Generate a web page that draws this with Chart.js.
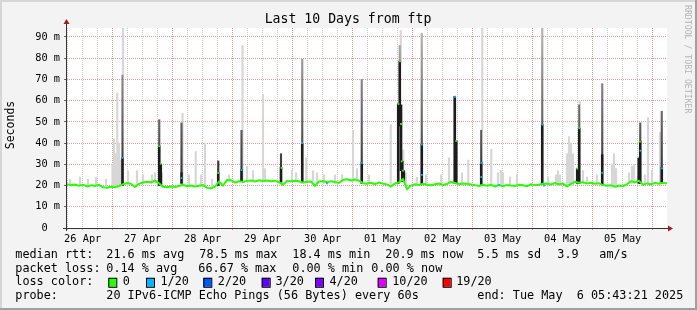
<!DOCTYPE html>
<html>
<head>
<meta charset="utf-8">
<script src="https://cdn.jsdelivr.net/npm/chart.js@4.4.1/dist/chart.umd.min.js"></script>
<style>
html, body { margin: 0; padding: 0; background: #f3f3f3; }
#wrap { width: 697px; height: 310px; position: relative; }
</style>
</head>
<body>
<div id="wrap"><canvas id="myGraph" width="697" height="310"></canvas></div>
<script>
// hours since start (Apr 26 05:43:21), first midnight is 27 Apr
var firstMidnight = 18.2775;
var dayLabels = ["26 Apr","27 Apr","28 Apr","29 Apr","30 Apr","01 May","02 May","03 May","04 May","05 May"];
var yTicks = [0,5,10,15,20,25,30,35,40,45,50,55,60,65,70,75,80,85,90];

// median rtt (ms), one value every 1.6 h
var medianStepHours = 1.6;
var medianMs = [
 20.6,20.2,20.5,19.9,20.4,19.6,20.1,19.8,20.3,19.2,19.0,19.4,19.2,19.8,20.6,21.2,
 20.8,19.3,20.8,21.4,21.8,21.5,22.3,21.0,19.4,19.2,19.5,19.3,19.8,20.3,19.7,20.0,
 19.6,19.9,20.2,18.9,18.7,19.5,21.8,20.0,22.6,22.5,21.4,22.0,21.7,22.2,22.4,21.9,
 22.5,22.1,22.4,22.0,22.3,21.6,20.4,22.1,22.0,22.2,22.0,21.3,21.8,21.9,19.9,21.9,
 22.1,21.6,22.0,21.7,21.2,22.6,22.9,22.4,22.8,22.3,21.1,20.9,21.3,20.6,21.4,20.9,
 20.5,19.5,21.0,21.5,23.0,18.3,20.0,20.6,20.3,20.8,20.4,20.1,20.6,20.9,20.3,20.7,
 21.8,21.2,20.6,21.0,20.8,20.5,20.2,19.8,20.4,19.9,20.3,19.6,20.2,19.7,20.3,20.0,
 19.8,20.4,20.1,19.7,20.6,20.2,20.4,20.8,21.0,20.5,21.2,20.6,20.9,19.6,20.8,21.8,
 21.3,21.5,21.0,21.3,20.8,21.1,20.2,19.9,20.1,19.5,20.0,19.7,20.6,22.0,21.6,22.2,
 20.4,21.0,20.6,21.2,20.8,21.3,20.9
];

// smoke: [hour, low ms, high ms]
var smokeDark = [
 [22.2,20,33],[36.9,20,38.6],[37.5,20,30],[45.8,21,26],[60.5,20,26],[69.8,22,27.5],
 [85.6,21.5,28.5],[94.1,21.5,39.5],[117.9,21,30.8],[132.5,21,58.5],[133.1,48,78.6],
 [133.6,27,58],[134.1,22,31.5],[134.7,22,27],[141.9,20.5,39.5],[155.1,21,62],
 [155.7,21,41],[165.7,20.5,30.8],[190.1,20.5,48.7],[204.1,21,28],[204.9,21,47],
 [214.1,20.5,34.5],[228.7,21,33],[229.3,21,41],[237.9,21,28.5]
];
var smokeMid = [
 [22.2,33,72],[36.9,38.6,51],[45.8,26,49.5],[60.5,26,31.6],[69.8,27.5,46],[85.6,28.5,35],
 [94.1,39.5,79.5],[117.9,30.8,70],[133.1,78.6,86],[141.9,39.5,91.7],[165.7,30.8,46],
 [190.1,48.7,94.2],[204.9,47,58],[214.1,34.5,68],[229.3,41,49.5],[237.9,28.5,55]
];
var smokeLight = [
 [1.2,20,23],[5.2,20,24],[8.4,20,23],[11.6,20,24],[15.6,20,23],[18.2,20,30],[18.8,20,42],
 [19.4,20,35],[20.1,20,63.6],[20.8,20,40],[21.4,20,32],[22.4,72,94.2],[24.4,20,27],[28,20,27],
 [30.4,21,25],[34,21,25],[35.2,21,26],[38,20,26],[46.2,21,54],[48.8,20,25],[51.5,20,36],
 [53.6,20,25],[55.2,20,40],[58,19,23],[64.8,22,25],[70.2,22,86],[72,22,29],[74.4,22,27],
 [78.4,22,63],[79.2,22,28],[90,22,27],[91.6,22,26],[95.7,22,33],[98.4,22,27],[100,21,26],
 [102.8,21,25],[107.2,21,25],[110,22,25],[114.4,22,46],[116,22,28],[120.8,21,25],
 [129.5,20,48.7],[133.5,78,93],[134.5,25,36.8],[135.6,20,26],[140,20,24],[143.6,20,25],
 [149.6,20,25],[152.8,21,33],[158,20,26],[160.5,20,32],[166.1,46,94.2],[169.7,20,37],
 [172.4,20,26],[173.6,20,27],[174.4,20,26],[177.2,20,24],[180,20,25],[192.4,20,24],
 [195.6,20,25],[196.4,20,27],[197.2,20,25],[200,20,35],[200.8,20,43],[201.6,20,40],
 [202.4,20,35],[205.1,58,59.6],[206.4,21,27],[208,21,24],[212,21,25],[218,20,30],
 [218.8,20,35],[219.6,20,28],[224.8,21,26],[226,21,29],[226.8,21,30],[231.2,21,25],
 [232.4,21,52],[234,21,27],[237.2,21,45]
];

// median samples with loss: [hour, ms, loss level index]
var medianPeaks = [
 [22.2,33,1],[36.9,38.5,0],[37.5,30.3,0],[45.8,23.5,1],[60.5,25.9,0],[69.8,27.3,1],
 [85.8,28.3,0],[94.0,40,1],[104,21,1],[117.9,30.6,1],[132.6,58.4,0],[133.2,78.5,0],
 [133.6,49,0],[133.9,31.4,0],[134.4,27,0],[141.9,39.3,1],[141.9,25,1],[155.2,61.8,1],
 [155.7,41,0],[165.7,30.6,1],[165.7,24,1],[172.8,20.3,1],[190.1,48.7,1],[190.8,20,1],
 [204.1,28,0],[204.9,47,0],[214.1,26,1],[229.2,40.7,0],[229.4,36.4,1],[238,28.1,1]
];

var lossLabels = ["0","1/20","2/20","3/20","4/20","10/20","19/20"];
var lossColors = ["#26ff00","#00b8ff","#0059ff","#5e00ff","#7e00ff","#dd00ff","#ff0000"];

// legend rows: [text, left x]
var rttItems = [["median rtt:",16],["21.6 ms avg",107],["78.5 ms max",200],["18.4 ms min",293],
                ["20.9 ms now",386],["5.5 ms sd",478],["3.9",558],["am/s",600]];
var lossItems = [["packet loss:",16],["0.14 % avg",107],["66.67 % max",199],["0.00 % min",293],
                 ["0.00 % now",372]];
var probeItems = [["probe:",16],["20 IPv6-ICMP Echo Pings (56 Bytes) every 60s",107],
                  ["end: Tue May  6 05:43:21 2025",478]];

document.addEventListener("DOMContentLoaded", function(){
  makeChart();
});

function isMidnight(v){
  let r = ((v - firstMidnight) % 24 + 24) % 24;
  return r < 0.01 || r > 23.99;
}

function smokeGradient(context){
  let chart = context.chart;
  if (!chart.chartArea) return "#777";
  let y = chart.scales.y;
  let g = chart.ctx.createLinearGradient(0, y.getPixelForValue(25), 0, y.getPixelForValue(94));
  g.addColorStop(0, "#333333");
  g.addColorStop(1, "#b5b5b5");
  return g;
}

function makeChart(){
  let target = document.getElementById("myGraph");
  const mono = '"DejaVu Sans Mono", monospace';

  let toBars = function(list){
    return list.map(d => ({x: d[0], y: [d[1], d[2]]}));
  };

  let medianData = medianMs.map((v, i) => ({x: i * medianStepHours, y: v}));

  let framePlugin = {
    id: "frame",
    beforeDraw: function(chart){
      let c = chart.ctx, a = chart.chartArea;
      c.save();
      c.fillStyle = "#f3f3f3";
      c.fillRect(0, 0, chart.width, chart.height);
      c.fillStyle = "#ffffff";
      c.fillRect(a.left, a.top, a.right - a.left, a.bottom - a.top);
      c.restore();
    },
    afterDraw: function(chart){
      let c = chart.ctx, a = chart.chartArea;
      c.save();
      // frame edges
      c.fillStyle = "#d6d6d6";
      c.fillRect(0, 0, chart.width, 2);
      c.fillRect(0, 0, 2, chart.height);
      c.fillStyle = "#a0a0a0";
      c.fillRect(0, chart.height - 2, chart.width, 2);
      c.fillRect(chart.width - 2, 0, 2, chart.height);

      // axes
      c.strokeStyle = "#333";
      c.lineWidth = 1;
      c.beginPath();
      c.moveTo(a.left - 0.5, a.bottom + 3);
      c.lineTo(a.left - 0.5, a.top - 6);
      c.moveTo(a.left - 4, a.bottom + 0.5);
      c.lineTo(a.right + 3, a.bottom + 0.5);
      c.stroke();
      c.fillStyle = "#9b2020";
      c.beginPath();
      c.moveTo(a.left - 0.5, a.top - 9);
      c.lineTo(a.left - 3.5, a.top - 4);
      c.lineTo(a.left + 2.5, a.top - 4);
      c.fill();
      c.beginPath();
      c.moveTo(a.right + 6, a.bottom + 0.5);
      c.lineTo(a.right + 1, a.bottom - 2.5);
      c.lineTo(a.right + 1, a.bottom + 3.5);
      c.fill();

      // title
      c.fillStyle = "#000";
      c.textBaseline = "middle";
      c.textAlign = "center";
      c.font = "13.2px " + mono;
      c.fillText("Last 10 Days from ftp", 348, 19.5);

      // y title
      c.save();
      c.translate(11, 125);
      c.rotate(-Math.PI / 2);
      c.font = "11.5px " + mono;
      c.fillText("Seconds", 0, 0);
      c.restore();

      // watermark
      c.save();
      c.translate(687, 5);
      c.rotate(Math.PI / 2);
      c.textAlign = "left";
      c.fillStyle = "#b4b4b4";
      c.font = "8.2px " + mono;
      c.fillText("RRDTOOL / TOBI OETIKER", 0, 0);
      c.restore();

      // legend
      c.textAlign = "left";
      c.font = "11.8px " + mono;
      let ys = [254.5, 268.5, 282.3, 296.3];
      [rttItems, lossItems, null, probeItems].forEach(function(row, i){
        if (!row) return;
        row.forEach(function(it){ c.fillText(it[0], it[1] - 0.7, ys[i]); });
      });
      c.fillText("loss color:", 15.3, ys[2]);
      let boxX = [108.3, 146, 203.3, 261.7, 315, 377.7, 442.7];
      let textX = [122.8, 160.5, 217.8, 275.5, 329.5, 392.2, 456.2];
      lossLabels.forEach(function(l, i){
        c.fillStyle = lossColors[i];
        c.fillRect(boxX[i], ys[2] - 4.5, 8, 9);
        c.strokeStyle = "#000";
        c.strokeRect(boxX[i] + 0.5, ys[2] - 4, 8, 9);
        c.fillStyle = "#000";
        c.fillText(l, textX[i], ys[2]);
      });
      c.restore();
    }
  };

  new Chart(target, {
    type: "line",
    data: {
      datasets: [
        {
          type: "line",
          data: medianPeaks.map(d => ({x: d[0], y: d[1]})),
          showLine: false,
          pointStyle: "rect",
          pointRadius: 1.3,
          pointBorderWidth: 0,
          pointBackgroundColor: medianPeaks.map(d => lossColors[d[2]]),
          order: 1
        },
        {
          type: "line",
          data: medianData,
          borderColor: "#26ff00",
          borderWidth: 2,
          pointRadius: 0,
          tension: 0,
          order: 2
        },
        {
          type: "bar",
          data: toBars(smokeDark),
          backgroundColor: "#1c1c1c",
          barThickness: 2,
          grouped: false,
          order: 3
        },
        {
          type: "bar",
          data: toBars(smokeMid),
          backgroundColor: smokeGradient,
          barThickness: 1.5,
          grouped: false,
          order: 4
        },
        {
          type: "bar",
          data: toBars(smokeLight),
          backgroundColor: "#d6d6d6",
          barThickness: 1.5,
          grouped: false,
          order: 5
        }
      ]
    },
    options: {
      responsive: false,
      animation: false,
      layout: { padding: { top: 28, right: 30, left: 0, bottom: 0 } },
      plugins: { legend: { display: false }, tooltip: { enabled: false } },
      scales: {
        x: {
          type: "linear",
          min: 0,
          max: 240,
          offset: false,
          afterFit: function(scale){ scale.height = 82; },
          afterBuildTicks: function(scale){
            let t = [];
            for (let h = firstMidnight - 18; h <= 240; h += 6) {
              if (h >= 0) t.push({value: h});
            }
            scale.ticks = t;
          },
          grid: {
            offset: false,
            color: function(ctx){
              return ctx.tick && isMidnight(ctx.tick.value) ? "#e59595" : "#cdcdcd";
            },
            tickColor: function(ctx){
              return ctx.tick && isMidnight(ctx.tick.value) ? "#e07070" : "#bbbbbb";
            },
            tickLength: 2
          },
          border: { display: false, dash: [1, 1] },
          ticks: {
            autoSkip: false,
            maxRotation: 0,
            padding: 3,
            color: "#000",
            font: { family: "DejaVu Sans Mono", size: 10.3 },
            callback: function(value){
              let k = (value - (firstMidnight - 12)) / 24;
              if (Math.abs(k - Math.round(k)) < 0.001) return dayLabels[Math.round(k)] || "";
              return "";
            }
          }
        },
        y: {
          type: "linear",
          min: 0,
          max: 94.2,
          afterFit: function(scale){ scale.width = 67; },
          afterBuildTicks: function(scale){
            scale.ticks = yTicks.map(v => ({value: v}));
          },
          grid: {
            color: function(ctx){
              return ctx.tick && ctx.tick.value % 10 === 0 ? "#e59595" : "#cdcdcd";
            },
            tickColor: "#666",
            tickLength: 3
          },
          border: { display: false, dash: [1, 1] },
          ticks: {
            padding: 4,
            color: "#000",
            font: { family: "DejaVu Sans Mono", size: 10.3 },
            callback: function(value){
              if (value % 10 !== 0) return "";
              return value === 0 ? "0  " : value + " m";
            }
          }
        }
      }
    },
    plugins: [framePlugin]
  });
}
</script>
</body>
</html>
